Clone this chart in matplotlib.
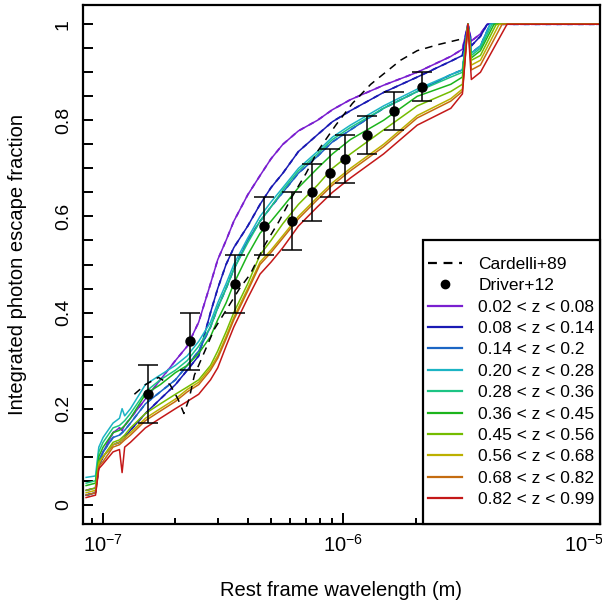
import numpy as np
import matplotlib
matplotlib.use('Agg')
import matplotlib.pyplot as plt
from matplotlib.lines import Line2D
from matplotlib.patches import Rectangle
from matplotlib.ticker import MultipleLocator, NullFormatter, LogLocator

plt.rcParams['font.family'] = ['Liberation Sans', 'DejaVu Sans']
plt.rcParams['mathtext.fontset'] = 'custom'
plt.rcParams['mathtext.rm'] = 'Liberation Sans'
plt.rcParams['mathtext.it'] = 'Liberation Sans:italic'

# wavelength grid (m) that the escape fraction curves were read at
lam = [8.5e-8, 9.3e-8, 9.6e-8, 1.0e-7, 1.1e-7, 1.17e-7, 1.2e-7, 1.23e-7, 1.3e-7, 1.5e-7,
       1.73e-7, 2.0e-7, 2.24e-7, 2.5e-7, 2.8e-7, 3.0e-7, 3.25e-7, 3.5e-7, 4.0e-7, 4.5e-7,
       5.0e-7, 5.6e-7, 6.5e-7, 7.8e-7, 9.0e-7, 1.07e-6, 1.47e-6, 2.03e-6, 2.8e-6, 3.13e-6,
       3.3e-6, 3.41e-6, 3.72e-6]

labels = ['0.02 < z < 0.08', '0.08 < z < 0.14', '0.14 < z < 0.2', '0.20 < z < 0.28',
          '0.28 < z < 0.36', '0.36 < z < 0.45', '0.45 < z < 0.56', '0.56 < z < 0.68',
          '0.68 < z < 0.82', '0.82 < z < 0.99']
colors = ['#7a1fd0', '#1a1ab4', '#1c66c4', '#1cb4c4', '#1cc484', '#1cb41c',
          '#74bc00', '#bcb000', '#c46c10', '#c41818']

f_z1 = [0.03, 0.035, 0.09, 0.11, 0.15, 0.16, 0.155, 0.165, 0.18, 0.22, 0.26, 0.30, 0.33, 0.38,
        0.46, 0.51, 0.55, 0.59, 0.645, 0.685, 0.72, 0.75, 0.778, 0.80, 0.822, 0.843, 0.873,
        0.90, 0.933, 0.948, 1.0, 0.965, 0.98]
f_z2 = [0.02, 0.025, 0.08, 0.10, 0.125, 0.13, 0.135, 0.14, 0.155, 0.19, 0.22, 0.25, 0.28, 0.31,
        0.40, 0.45, 0.50, 0.535, 0.58, 0.625, 0.66, 0.69, 0.735, 0.77, 0.797, 0.82, 0.858,
        0.89, 0.923, 0.935, 1.0, 0.955, 0.975]
f_z3 = [0.02, 0.025, 0.09, 0.11, 0.14, 0.145, 0.15, 0.155, 0.17, 0.21, 0.235, 0.26, 0.29, 0.32,
        0.37, 0.41, 0.45, 0.49, 0.55, 0.59, 0.62, 0.65, 0.69, 0.725, 0.755, 0.78, 0.825,
        0.86, 0.895, 0.905, 1.0, 0.94, 0.955]
f_z4 = [0.057, 0.06, 0.12, 0.14, 0.17, 0.18, 0.20, 0.185, 0.20, 0.25, 0.27, 0.29, 0.31, 0.34,
        0.38, 0.42, 0.46, 0.50, 0.555, 0.60, 0.63, 0.66, 0.70, 0.735, 0.765, 0.79, 0.83,
        0.865, 0.895, 0.905, 1.0, 0.94, 0.955]
f_z5 = [0.045, 0.05, 0.11, 0.13, 0.16, 0.165, 0.17, 0.175, 0.19, 0.235, 0.26, 0.28, 0.30, 0.33,
        0.37, 0.41, 0.45, 0.49, 0.545, 0.59, 0.62, 0.655, 0.695, 0.73, 0.76, 0.785, 0.825,
        0.86, 0.89, 0.90, 1.0, 0.935, 0.95]
f_z6 = [0.04, 0.045, 0.10, 0.12, 0.15, 0.155, 0.16, 0.165, 0.18, 0.23, 0.25, 0.275, 0.29, 0.315,
        0.35, 0.385, 0.42, 0.46, 0.52, 0.565, 0.59, 0.62, 0.66, 0.70, 0.73, 0.76, 0.80,
        0.85, 0.875, 0.89, 1.0, 0.93, 0.945]
f_z7 = [0.03, 0.035, 0.09, 0.10, 0.13, 0.135, 0.14, 0.145, 0.16, 0.19, 0.21, 0.23, 0.245, 0.26,
        0.29, 0.32, 0.36, 0.40, 0.46, 0.52, 0.55, 0.585, 0.625, 0.665, 0.70, 0.73, 0.78,
        0.83, 0.86, 0.875, 1.0, 0.925, 0.935]
f_z8 = [0.025, 0.03, 0.085, 0.10, 0.125, 0.13, 0.135, 0.14, 0.15, 0.18, 0.20, 0.22, 0.24, 0.255,
        0.285, 0.31, 0.35, 0.39, 0.45, 0.505, 0.53, 0.56, 0.60, 0.64, 0.67, 0.70, 0.75,
        0.81, 0.845, 0.865, 1.0, 0.915, 0.925]
f_z9 = [0.02, 0.025, 0.08, 0.09, 0.12, 0.125, 0.13, 0.135, 0.145, 0.175, 0.195, 0.215, 0.235, 0.25,
        0.28, 0.305, 0.345, 0.385, 0.445, 0.50, 0.525, 0.555, 0.595, 0.635, 0.665, 0.695, 0.745,
        0.805, 0.84, 0.86, 1.0, 0.905, 0.915]
f_z10 = [0.015, 0.02, 0.075, 0.085, 0.11, 0.115, 0.067, 0.12, 0.13, 0.16, 0.18, 0.20, 0.215, 0.23,
         0.26, 0.285, 0.33, 0.37, 0.43, 0.48, 0.505, 0.535, 0.58, 0.62, 0.65, 0.68, 0.73,
         0.79, 0.825, 0.855, 1.0, 0.885, 0.90]
fesc = [f_z1, f_z2, f_z3, f_z4, f_z5, f_z6, f_z7, f_z8, f_z9, f_z10]
# wavelength where each curve gets back to 1 after the 3.3 micron feature
lam_one = [3.97e-6, 3.97e-6, 4.08e-6, 4.08e-6, 4.16e-6, 4.24e-6, 4.33e-6, 4.45e-6, 4.58e-6, 4.8e-6]
lam_end = 1.2e-5

# Cardelli+89
card_lam = [1.35e-7, 1.5e-7, 1.7e-7, 1.9e-7, 2.05e-7, 2.17e-7, 2.28e-7, 2.4e-7, 2.6e-7, 2.9e-7,
            3.3e-7, 3.7e-7, 4.1e-7, 4.7e-7, 5.4e-7, 6.1e-7, 7.0e-7, 7.8e-7, 9.3e-7, 1.09e-6,
            1.3e-6, 1.73e-6, 2.03e-6, 2.5e-6, 3.15e-6]
card_f = [0.23, 0.25, 0.265, 0.25, 0.22, 0.19, 0.22, 0.27, 0.31, 0.365, 0.41, 0.45, 0.48, 0.54,
          0.59, 0.64, 0.69, 0.735, 0.79, 0.835, 0.875, 0.925, 0.945, 0.958, 0.97]

# Driver+12
drv_lam = [1.54e-7, 2.30e-7, 3.55e-7, 4.68e-7, 6.13e-7, 7.43e-7, 8.76e-7, 1.02e-6, 1.25e-6,
           1.63e-6, 2.13e-6]
drv_f = [0.23, 0.34, 0.46, 0.58, 0.59, 0.65, 0.69, 0.72, 0.77, 0.82, 0.87]
drv_lo = [0.17, 0.28, 0.40, 0.52, 0.53, 0.59, 0.64, 0.67, 0.73, 0.78, 0.84]
drv_hi = [0.29, 0.40, 0.52, 0.64, 0.65, 0.71, 0.74, 0.77, 0.81, 0.86, 0.90]

fig = plt.figure(figsize=(6.02, 6.02), dpi=100)
ax = fig.add_axes([83/602, 78/602, 517/602, 519/602])

for i in range(len(fesc)):
    x = lam + [lam_one[i], lam_end]
    y = fesc[i] + [1.0, 1.0]
    ax.plot(x, y, color=colors[i], lw=1.1)
    if i < 3:
        ax.plot(x, y, color=colors[i], lw=1.3, ls=(0, (3, 3)))

ax.plot(card_lam, card_f, color='black', lw=1.1, ls=(0, (5, 4)))

yerr = [np.array(drv_f) - np.array(drv_lo), np.array(drv_hi) - np.array(drv_f)]
ax.errorbar(drv_lam, drv_f, yerr=yerr, fmt='o', color='black', ms=6.5,
            elinewidth=1.1, capsize=7, capthick=1.1)

ax.set_xscale('log')
ax.set_xlim(8.25e-8, 1.17e-5)
ax.set_ylim(-0.04, 1.04)

ax.xaxis.set_major_locator(LogLocator(base=10, numticks=10))
ax.xaxis.set_minor_locator(LogLocator(base=10, subs=np.arange(2, 10), numticks=20))
ax.xaxis.set_minor_formatter(NullFormatter())
ax.yaxis.set_minor_locator(MultipleLocator(0.05))
ax.set_yticks([0, 0.2, 0.4, 0.6, 0.8, 1.0])
ax.set_yticklabels(['0', '0.2', '0.4', '0.6', '0.8', '1'], rotation=90, va='center')

ax.tick_params(axis='x', which='major', direction='in', length=8, width=1.4, labelsize=14.5, pad=7)
ax.tick_params(axis='x', which='minor', direction='in', length=4.5, width=1.4)
ax.tick_params(axis='y', which='both', direction='in', length=7, width=1.4, labelsize=14, pad=8)
for s in ax.spines.values():
    s.set_linewidth(1.6)

ax.set_xlabel('Rest frame wavelength (m)', fontsize=14.5, labelpad=18)
ax.set_ylabel('Integrated photon escape fraction', fontsize=14.5, labelpad=20)

# legend box drawn by hand so the padding matches
bx0 = (423 - 83) / 517
by1 = (524 - 240) / 519
ax.add_patch(Rectangle((bx0, 0), 1 - bx0, by1, transform=ax.transAxes, facecolor='white',
                       edgecolor='black', lw=1.6, zorder=5, clip_on=False))
handles = [Line2D([], [], color='black', lw=1.6, ls=(0, (4, 3))),
           Line2D([], [], color='black', ls='none', marker='o', ms=6)]
for c in colors:
    handles.append(Line2D([], [], color=c, lw=1.6))
leg = ax.legend(handles, ['Cardelli+89', 'Driver+12'] + labels, loc='center',
                bbox_to_anchor=((bx0 + 1) / 2, by1 / 2), fontsize=12.5, frameon=False,
                borderpad=0, handlelength=1.95, handletextpad=0.92, labelspacing=0.36)
leg.set_zorder(6)

fig.savefig('out.png', dpi=100)
